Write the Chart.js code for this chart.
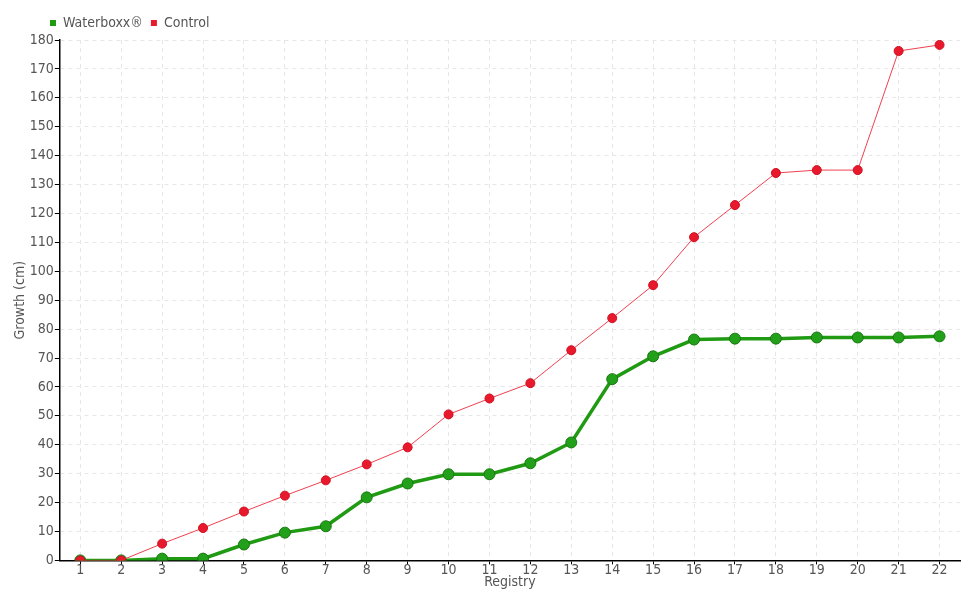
<!DOCTYPE html>
<html>
<head>
<meta charset="utf-8">
<script src="https://cdn.jsdelivr.net/npm/chart.js@4/dist/chart.umd.min.js"></script>
<style>
  html, body { margin: 0; padding: 0; background: #fff; }
  #wrap { width: 980px; height: 600px; }
</style>
</head>
<body>
<div id="wrap"><canvas id="chart"></canvas></div>
<script>
var registry = ["1", "2", "3", "4", "5", "6", "7", "8", "9", "10", "11", "12", "13", "14", "15", "16", "17", "18", "19", "20", "21", "22"];
var waterboxx = [0, 0, 0.6, 0.6, 5.5, 9.6, 11.8, 21.8, 26.6, 29.8, 29.8, 33.6, 40.8, 62.7, 70.6, 76.4, 76.7, 76.7, 77.1, 77.1, 77.1, 77.5];
var control = [0, 0, 5.8, 11.2, 16.9, 22.4, 27.7, 33.2, 39.1, 50.5, 56, 61.3, 72.7, 83.8, 95.2, 111.8, 122.9, 134, 135, 135, 176.2, 178.3];

var FONT = "'DejaVu Sans Condensed', 'Liberation Sans Narrow', sans-serif";
var TEXT = "#555";

// shift the legend right so it starts near the y axis
var legendShift = {
  id: "legendShift",
  afterLayout: function (chart) {
    chart.legend.left += 30;
  }
};

new Chart(document.getElementById("chart"), {
  type: "line",
  data: {
    labels: registry,
    datasets: [{
      label: "Waterboxx\u00ae",
      data: waterboxx,
      order: 1,
      borderColor: "#1f9a12",
      backgroundColor: "#1f9a12",
      pointBackgroundColor: "#22a01a",
      pointBorderColor: "#17780f",
      pointBorderWidth: 1,
      borderWidth: 3.5,
      pointRadius: 5.5,
      tension: 0
    }, {
      label: "Control",
      data: control,
      order: 0,
      borderColor: "#f0404f",
      backgroundColor: "#e8192c",
      pointBackgroundColor: "#e8192c",
      pointBorderColor: "#d01020",
      pointBorderWidth: 1,
      borderWidth: 1,
      pointRadius: 4.5,
      tension: 0
    }]
  },
  options: {
    responsive: true,
    maintainAspectRatio: false,
    animation: false,
    layout: { padding: { left: 12, right: 20, top: 8, bottom: 9 } },
    plugins: {
      legend: {
        position: "top",
        align: "start",
        labels: {
          boxWidth: 6,
          boxHeight: 6,
          padding: 8,
          color: TEXT,
          font: { family: FONT, size: 14 },
          generateLabels: function (chart) {
            return chart.data.datasets.map(function (ds, i) {
              return {
                text: ds.label,
                fillStyle: ds.backgroundColor,
                strokeStyle: ds.backgroundColor,
                lineWidth: 0,
                fontColor: TEXT,
                datasetIndex: i
              };
            });
          }
        }
      },
      tooltip: { enabled: false }
    },
    scales: {
      x: {
        offset: true,
        title: { display: true, text: "Registry", color: TEXT, font: { family: FONT, size: 14 }, padding: { top: -3, bottom: 0 } },
        ticks: { color: TEXT, font: { family: FONT, size: 14 }, padding: -2 },
        grid: { color: "#e6e6e6", tickColor: "#000", tickLength: 4, offset: false, drawTicks: true },
        border: { display: true, color: "#000", width: 1.5, dash: [4, 4] }
      },
      y: {
        min: 0,
        max: 180,
        title: { display: true, text: "Growth (cm)", color: TEXT, font: { family: FONT, size: 14 }, padding: 0 },
        ticks: { stepSize: 10, color: TEXT, font: { family: FONT, size: 14 }, padding: 1 },
        grid: { color: "#e6e6e6", tickColor: "#000", tickLength: 5 },
        border: { display: true, color: "#000", width: 1.5, dash: [4, 4] }
      }
    }
  },
  plugins: [legendShift]
});
</script>
</body>
</html>
